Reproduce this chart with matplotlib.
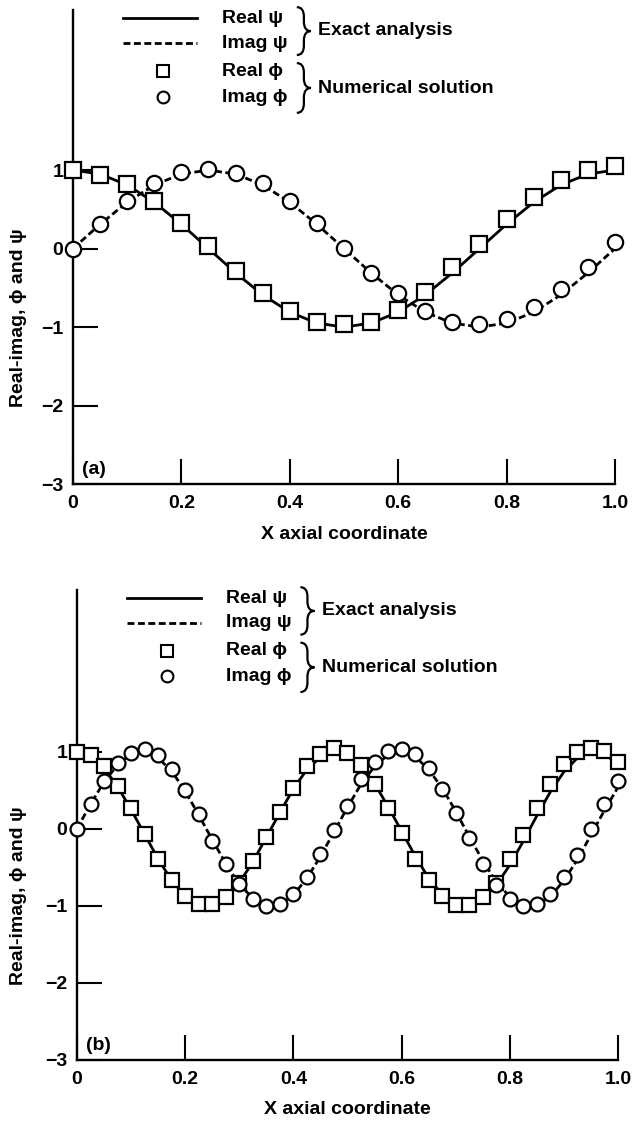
import matplotlib
matplotlib.use("Agg")
import matplotlib.pyplot as plt
from matplotlib.path import Path
from matplotlib.patches import PathPatch

plt.rcParams["font.family"] = ["Liberation Sans", "DejaVu Sans"]
plt.rcParams["font.weight"] = "bold"
plt.rcParams["font.size"] = 14
plt.rcParams["lines.scale_dashes"] = False

# ---- panel (a): one wavelength, 21 nodes ----
x_a = [0.0, 0.05, 0.1, 0.15, 0.2, 0.25, 0.3, 0.35, 0.4, 0.45, 0.5,
       0.55, 0.6, 0.65, 0.7, 0.75, 0.8, 0.85, 0.9, 0.95, 1.0]
exact_real_a = [1.0, 0.95, 0.81, 0.59, 0.31, 0.0, -0.31, -0.59, -0.81, -0.95, -1.0,
                -0.95, -0.81, -0.59, -0.31, 0.0, 0.31, 0.59, 0.81, 0.95, 1.0]
exact_imag_a = [0.0, 0.31, 0.59, 0.81, 0.95, 1.0, 0.95, 0.81, 0.59, 0.31, 0.0,
                -0.31, -0.59, -0.81, -0.95, -1.0, -0.95, -0.81, -0.59, -0.31, 0.0]
num_real_a = [1.0, 0.94, 0.82, 0.60, 0.32, 0.03, -0.29, -0.57, -0.80, -0.94, -0.96,
              -0.93, -0.78, -0.55, -0.24, 0.06, 0.38, 0.66, 0.88, 1.00, 1.05]
num_imag_a = [0.0, 0.31, 0.60, 0.83, 0.97, 1.02, 0.96, 0.84, 0.61, 0.33, 0.01,
              -0.31, -0.57, -0.79, -0.93, -0.96, -0.90, -0.75, -0.51, -0.23, 0.08]

# ---- panel (b): about two wavelengths, 41 nodes ----
x_b = [0.0, 0.025, 0.05, 0.075, 0.1, 0.125, 0.15, 0.175, 0.2, 0.225, 0.25,
       0.275, 0.3, 0.325, 0.35, 0.375, 0.4, 0.425, 0.45, 0.475, 0.5,
       0.525, 0.55, 0.575, 0.6, 0.625, 0.65, 0.675, 0.7, 0.725, 0.75,
       0.775, 0.8, 0.825, 0.85, 0.875, 0.9, 0.925, 0.95, 0.975, 1.0]
exact_real_b = [1.00, 0.95, 0.79, 0.55, 0.25, -0.07, -0.39, -0.67, -0.87, -0.98, -0.99,
                -0.89, -0.70, -0.43, -0.11, 0.21, 0.52, 0.77, 0.93, 1.00, 0.96,
                0.82, 0.59, 0.29, -0.03, -0.35, -0.64, -0.85, -0.98, -1.00, -0.91,
                -0.73, -0.47, -0.16, 0.17, 0.48, 0.74, 0.92, 1.00, 0.97, 0.84]
exact_imag_b = [0.0, 0.32, 0.61, 0.83, 0.97, 1.00, 0.92, 0.75, 0.49, 0.18, -0.14,
                -0.45, -0.72, -0.90, -0.99, -0.98, -0.86, -0.64, -0.36, -0.04, 0.28,
                0.58, 0.81, 0.96, 1.00, 0.94, 0.77, 0.53, 0.23, -0.10, -0.41,
                -0.69, -0.88, -0.99, -0.99, -0.88, -0.67, -0.40, -0.08, 0.24, 0.54]
num_real_b = [1.00, 0.96, 0.81, 0.56, 0.27, -0.07, -0.39, -0.67, -0.87, -0.98, -0.98,
              -0.89, -0.70, -0.42, -0.10, 0.22, 0.53, 0.82, 0.97, 1.05, 0.99,
              0.83, 0.58, 0.27, -0.06, -0.39, -0.66, -0.87, -0.99, -0.99, -0.89,
              -0.70, -0.39, -0.08, 0.27, 0.58, 0.84, 1.00, 1.05, 1.01, 0.87]
num_imag_b = [0.0, 0.32, 0.62, 0.86, 0.99, 1.04, 0.96, 0.78, 0.51, 0.19, -0.16,
              -0.45, -0.72, -0.91, -1.00, -0.97, -0.84, -0.62, -0.33, -0.01, 0.30,
              0.65, 0.87, 1.01, 1.04, 0.97, 0.79, 0.52, 0.21, -0.12, -0.45,
              -0.73, -0.91, -1.00, -0.98, -0.85, -0.63, -0.34, 0.00, 0.32, 0.62]

x_ticks = [0.0, 0.2, 0.4, 0.6, 0.8, 1.0]
x_tick_labels = ["0", "0.2", "0.4", "0.6", "0.8", "1.0"]
y_ticks = [-3, -2, -1, 0, 1]
y_tick_labels = ["\u22123", "\u22122", "\u22121", "0", "1"]


def brace(ax, x0, y0, y1, w=0.026, r=0.02):
  # right curly brace in axes fraction coords
  xm = x0 + w / 2
  ym = (y0 + y1) / 2
  verts = [(x0, y1), (xm, y1), (xm, y1 - r), (xm, ym + r), (xm, ym), (x0 + w, ym),
           (xm, ym), (xm, ym - r), (xm, y0 + r), (xm, y0), (x0, y0)]
  codes = [Path.MOVETO, Path.CURVE3, Path.CURVE3, Path.LINETO, Path.CURVE3, Path.CURVE3,
           Path.CURVE3, Path.CURVE3, Path.LINETO, Path.CURVE3, Path.CURVE3]
  ax.add_patch(PathPatch(Path(verts, codes), fill=False, lw=1.6, color="black",
                         transform=ax.transAxes, clip_on=False))


def panel(ax, x, ex_re, ex_im, nu_re, nu_im, ytop, tag, ms, xlab_x):
  ax.plot(x, ex_re, color="black", lw=2.0, zorder=2)
  ax.plot(x, ex_im, color="black", lw=2.0, dashes=(5, 2.5), zorder=2)
  ax.plot(x, nu_re, ls="none", marker="s", ms=ms, mfc="white", mec="black",
          mew=1.6, zorder=3, clip_on=False)
  ax.plot(x, nu_im, ls="none", marker="o", ms=ms, mfc="white", mec="black",
          mew=1.6, zorder=3, clip_on=False)

  ax.set_xlim(0, 1)
  ax.set_ylim(-3, ytop)
  for side in ["top", "right"]:
    ax.spines[side].set_visible(False)
  for side in ["left", "bottom"]:
    ax.spines[side].set_linewidth(1.7)
  ax.set_xticks(x_ticks)
  ax.set_xticklabels(x_tick_labels)
  ax.set_yticks(y_ticks)
  ax.set_yticklabels(y_tick_labels)
  ax.tick_params(direction="in", length=18, width=1.5, labelsize=14)
  ax.tick_params(axis="x", pad=8)
  ax.tick_params(axis="y", pad=7)

  ax.set_ylabel("Real-imag, \u03d5 and \u03c8", fontsize=14, fontweight="bold")
  ax.yaxis.set_label_coords(xlab_x, 0.35)
  ax.set_xlabel("X axial coordinate", fontsize=14, fontweight="bold")
  ax.xaxis.set_label_coords(0.5, -0.088)
  ax.text(0.017, 0.03, tag, transform=ax.transAxes, ha="left", va="center")

  # hand-made legend
  rows = [0.983, 0.930, 0.871, 0.816]
  ax.plot([0.092, 0.229], [rows[0], rows[0]], color="black", lw=2.0,
          transform=ax.transAxes, clip_on=False)
  ax.plot([0.092, 0.229], [rows[1], rows[1]], color="black", lw=2.0,
          dashes=(5, 2.5), transform=ax.transAxes, clip_on=False)
  ax.plot([0.166], [rows[2]], marker="s", ms=8.5, mfc="white", mec="black",
          mew=1.5, transform=ax.transAxes, clip_on=False)
  ax.plot([0.166], [rows[3]], marker="o", ms=8.5, mfc="white", mec="black",
          mew=1.5, transform=ax.transAxes, clip_on=False)
  names = ["Real \u03c8", "Imag \u03c8", "Real \u03d5", "Imag \u03d5"]
  for y, name in zip(rows, names):
    ax.text(0.275, y, name, transform=ax.transAxes, ha="left", va="center")
  brace(ax, 0.413, 0.905, 1.006)
  brace(ax, 0.413, 0.783, 0.888)
  ax.text(0.452, 0.956, "Exact analysis", transform=ax.transAxes, ha="left", va="center")
  ax.text(0.452, 0.835, "Numerical solution", transform=ax.transAxes, ha="left", va="center")


fig = plt.figure(figsize=(6.32, 11.23), dpi=100)
ax_a = fig.add_axes([0.1155, 0.5690, 0.8576, 0.4221])
ax_b = fig.add_axes([0.1218, 0.0561, 0.856, 0.4185])

panel(ax_a, x_a, exact_real_a, exact_imag_a, num_real_a, num_imag_a, 3.04, "(a)", 11, -0.085)
panel(ax_b, x_b, exact_real_b, exact_imag_b, num_real_b, num_imag_b, 3.1, "(b)", 10, -0.092)

fig.savefig("out.png", dpi=100)
